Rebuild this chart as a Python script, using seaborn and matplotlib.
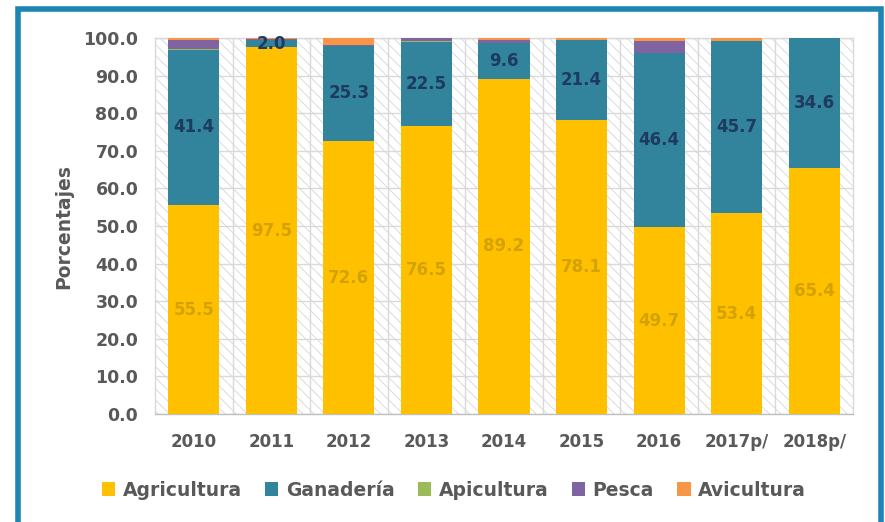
import numpy as np
import pandas as pd
import matplotlib
matplotlib.use("Agg")
import matplotlib.pyplot as plt
from matplotlib.patches import Patch, Rectangle
import seaborn as sns

years = ["2010", "2011", "2012", "2013", "2014", "2015", "2016", "2017p/", "2018p/"]
agricultura = [55.5, 97.5, 72.6, 76.5, 89.2, 78.1, 49.7, 53.4, 65.4]
ganaderia = [41.4, 2.0, 25.3, 22.5, 9.6, 21.4, 46.4, 45.7, 34.6]
apicultura = [0.1, 0.0, 0.1, 0.1, 0.0, 0.0, 0.0, 0.0, 0.0]
pesca = [2.5, 0.3, 0.1, 0.8, 0.6, 0.0, 3.0, 0.0, 0.0]
avicultura = [0.5, 0.2, 1.9, 0.1, 0.6, 0.5, 0.9, 0.9, 0.0]

series = ["Agricultura", "Ganadería", "Apicultura", "Pesca", "Avicultura"]
colors = ["#FFC000", "#31849B", "#9BBB59", "#8064A2", "#F79646"]

df = pd.DataFrame({"year": years, "Agricultura": agricultura, "Ganadería": ganaderia,
                   "Apicultura": apicultura, "Pesca": pesca, "Avicultura": avicultura})
cum = df[series].cumsum(axis=1)

sns.set_style("white")
plt.rcParams["font.family"] = ["DejaVu Sans"]
plt.rcParams["hatch.linewidth"] = 0.6
grey = "#595959"

fig = plt.figure(figsize=(8.85, 5.22), dpi=100)
ax = fig.add_axes([155 / 885, 1 - 414 / 522, 698 / 885, 376 / 522])

# hatched plot area
ax.patch.set_facecolor("white")
ax.patch.set_edgecolor("#d6d6d6")
ax.patch.set_hatch("\\\\\\")

# stacked bars: draw cumulative totals from the top down
for name, c in reversed(list(zip(series, colors))):
    sns.barplot(x=df["year"], y=cum[name], order=years, color=c, saturation=1,
                width=0.66, ax=ax, linewidth=0, zorder=3)

# value labels
for i in range(len(years)):
    ax.text(i, agricultura[i] / 2, f"{agricultura[i]:.1f}", ha="center", va="center",
            fontsize=12, fontweight="bold", color="#D4A200", zorder=5)
    ax.text(i, agricultura[i] + ganaderia[i] / 2, f"{ganaderia[i]:.1f}", ha="center",
            va="center", fontsize=12, fontweight="bold", color="#1F3A5F", zorder=5)

ax.set_xlim(-0.5, len(years) - 0.5)
ax.set_ylim(0, 100)
ax.set_yticks(np.arange(0, 101, 10))
ax.set_yticklabels([f"{v:.1f}" for v in np.arange(0, 101, 10)])
ax.set_xticks(range(len(years)))
ax.set_xticklabels(years)
ax.set_xticks(np.arange(0.5, len(years) - 0.5, 1), minor=True)
ax.grid(True, axis="y", color="#d9d9d9", linewidth=1, zorder=1)
ax.grid(True, axis="x", which="minor", color="#d9d9d9", linewidth=1, zorder=1)
ax.set_axisbelow(True)
ax.tick_params(axis="both", which="both", length=0)
ax.tick_params(axis="y", labelsize=12.5, labelcolor=grey, pad=12)
ax.tick_params(axis="x", labelsize=12, labelcolor=grey, pad=14)
for lab in ax.get_xticklabels() + ax.get_yticklabels():
    lab.set_fontweight("bold")
for s in ax.spines.values():
    s.set_color("#d9d9d9")
    s.set_linewidth(1)
ax.spines["bottom"].set_color("#bfbfbf")
ax.set_xlabel("")
ax.set_ylabel("Porcentajes", fontsize=13.5, fontweight="bold", color=grey, labelpad=7)

handles = [Patch(facecolor=c, edgecolor="none") for c in colors]
fig.legend(handles, series, loc="center", bbox_to_anchor=(454 / 885, 1 - 490 / 522),
           ncol=5, frameon=False, handlelength=0.7, handleheight=0.7,
           handletextpad=0.4, columnspacing=1.25,
           prop={"size": 13.5, "weight": "bold"}, labelcolor=grey)

# blue frame around the chart
fig.patches.append(Rectangle((17.5 / 885, -0.1), (881 - 17.5) / 885, 1.1 - 8.5 / 522,
                             transform=fig.transFigure, fill=False,
                             edgecolor="#1C86B3", linewidth=4, zorder=10))

fig.savefig("out.png", dpi=100)
